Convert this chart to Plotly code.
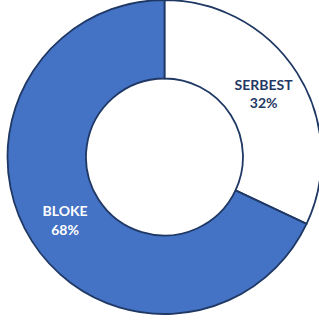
import plotly.graph_objects as go

labels = ["SERBEST", "BLOKE"]
values = [32, 68]
colors = ["#FFFFFF", "#4472C4"]
text_colors = ["#1F3864", "#FFFFFF"]

W, H = 330, 322
cx, cy, r = 164.5, 157, 157

fig = go.Figure(go.Pie(
    labels=labels,
    values=values,
    hole=0.5,
    sort=False,
    direction="clockwise",
    rotation=0,
    marker=dict(colors=colors, line=dict(color="#1F3864", width=1.8)),
    texttemplate="<b>%{label}</b><br><b>%{value}%</b>",
    textposition="inside",
    insidetextorientation="horizontal",
    textfont=dict(family="Lato, Open Sans, sans-serif", size=14, color=text_colors),
    hoverinfo="skip",
    domain=dict(x=[(cx - r) / W, (cx + r) / W], y=[(H - (cy + r)) / H, 1 - (cy - r) / H]),
))
fig.update_layout(
    width=W, height=H,
    margin=dict(l=0, r=0, t=0, b=0),
    showlegend=False,
    paper_bgcolor="white",
    plot_bgcolor="white",
)
fig.write_html(
    "out.html",
    config={"displayModeBar": False},
    post_script="document.body.style.margin='0';document.body.style.overflow='hidden';document.documentElement.style.overflow='hidden';",
)
